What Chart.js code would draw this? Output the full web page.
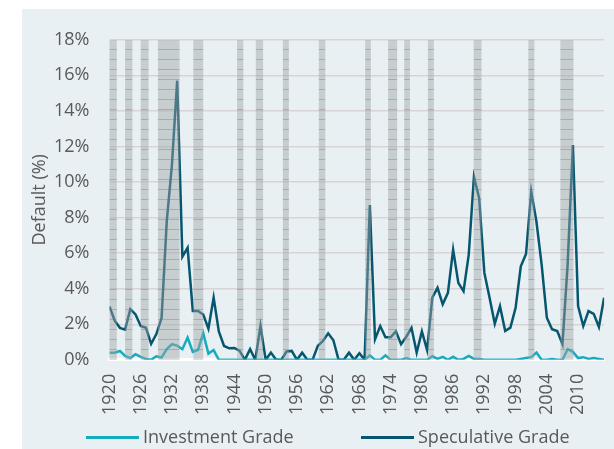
<!DOCTYPE html>
<html>
<head>
<meta charset="utf-8">
<script src="https://cdn.jsdelivr.net/npm/chart.js@4.4.1/dist/chart.umd.min.js"></script>
<style>
    html, body { margin: 0; padding: 0; background: #ffffff; }
    #panel { position: absolute; left: 22px; top: 9px; width: 592px; height: 440px; background: #e8f0f3; }
</style>
</head>
<body>
<div id="panel"><canvas id="defaultChart" width="592" height="440"></canvas></div>
<script>
var years = [
    1920, 1921, 1922, 1923, 1924, 1925, 1926, 1927, 1928, 1929,
    1930, 1931, 1932, 1933, 1934, 1935, 1936, 1937, 1938, 1939,
    1940, 1941, 1942, 1943, 1944, 1945, 1946, 1947, 1948, 1949,
    1950, 1951, 1952, 1953, 1954, 1955, 1956, 1957, 1958, 1959,
    1960, 1961, 1962, 1963, 1964, 1965, 1966, 1967, 1968, 1969,
    1970, 1971, 1972, 1973, 1974, 1975, 1976, 1977, 1978, 1979,
    1980, 1981, 1982, 1983, 1984, 1985, 1986, 1987, 1988, 1989,
    1990, 1991, 1992, 1993, 1994, 1995, 1996, 1997, 1998, 1999,
    2000, 2001, 2002, 2003, 2004, 2005, 2006, 2007, 2008, 2009,
    2010, 2011, 2012, 2013, 2014, 2015
];

var investmentGrade = [
    0.4, 0.4, 0.5, 0.22, 0.1, 0.32, 0.17, 0.05, 0, 0.2,
    0.13, 0.6, 0.88, 0.8, 0.6, 1.25, 0.45, 0.55, 1.5, 0.35,
    0.55, 0, 0, 0, 0, 0, 0, 0, 0, 0,
    0, 0, 0, 0, 0, 0, 0, 0, 0, 0,
    0, 0, 0, 0, 0, 0, 0, 0, 0, 0,
    0.25, 0, 0, 0.25, 0, 0, 0, 0.1, 0, 0,
    0, 0, 0.2, 0.05, 0.17, 0, 0.17, 0, 0.05, 0.22,
    0.05, 0.05, 0, 0, 0, 0, 0, 0, 0, 0.05,
    0.1, 0.15, 0.41, 0, 0, 0.05, 0, 0, 0.6, 0.45,
    0.1, 0.15, 0.05, 0.1, 0.05, 0
];

var speculativeGrade = [
    3.0, 2.2, 1.8, 1.7, 2.85, 2.55, 1.9, 1.8, 0.9, 1.45,
    2.35, 7.8, 11.0, 15.7, 5.8, 6.3, 2.75, 2.75, 2.55, 1.75,
    3.5, 1.6, 0.78, 0.65, 0.67, 0.5, 0, 0.6, 0, 1.9,
    0, 0.41, 0, 0, 0.47, 0.5, 0, 0.4, 0, 0,
    0.78, 1.06, 1.49, 1.1, 0, 0, 0.4, 0, 0.37, 0,
    8.7, 1.16, 1.9, 1.27, 1.27, 1.6, 0.88, 1.3, 1.8, 0.41,
    1.6, 0.55, 3.5, 4.05, 3.12, 3.77, 6.2, 4.33, 3.86, 5.92,
    10.3, 9.09, 4.89, 3.49, 2.03, 3.02, 1.62, 1.81, 2.93, 5.26,
    5.95, 9.46, 7.78, 5.36, 2.37, 1.72, 1.62, 0.88, 5.4, 12.08,
    3.02, 1.9, 2.74, 2.59, 1.85, 3.49
];

// shaded recession periods, start and end in years
var recessions = [
    [1919.6, 1921.4], [1923.0, 1924.4], [1926.0, 1927.5], [1929.3, 1933.45],
    [1936.1, 1938.0], [1944.5, 1945.7], [1948.1, 1949.5], [1953.3, 1954.45],
    [1960.2, 1961.45], [1969.1, 1970.2], [1973.5, 1975.25], [1976.6, 1977.7],
    [1981.15, 1982.3], [1989.95, 1991.45], [2000.45, 2001.6], [2006.6, 2009.15]
];

var xTickYears = [1920, 1926, 1932, 1938, 1944, 1950, 1956, 1962, 1968, 1974, 1980, 1986, 1992, 1998, 2004, 2010];
var yMax = 18;

var textColor = "#595959";
var fontFamily = "'Open Sans', Lato, sans-serif";

function toPoints(values) {
    return values.map(function (v, i) {
        return { x: years[i], y: v };
    });
}

function recessionPoints() {
    var pts = [];
    recessions.forEach(function (r) {
        pts.push({ x: r[0], y: 0 }, { x: r[0], y: yMax }, { x: r[1], y: yMax }, { x: r[1], y: 0 });
    });
    return pts;
}

function makeHatch() {
    var c = document.createElement("canvas");
    c.width = 8;
    c.height = 10;
    var g = c.getContext("2d");
    g.fillStyle = "rgba(160, 163, 166, 0.45)";
    g.fillRect(0, 0, 8, 10);
    g.fillStyle = "rgba(110, 112, 115, 0.35)";
    g.fillRect(0, 0, 8, 1);
    return g.createPattern(c, "repeat");
}

// legend drawn by hand so the spacing matches the original
var lineLegend = {
    id: "lineLegend",
    afterDraw: function (chart) {
        var ctx = chart.ctx;
        var items = [
            { ds: chart.data.datasets[1], x: 64 },
            { ds: chart.data.datasets[2], x: 339 }
        ];
        ctx.save();
        ctx.font = "18px " + fontFamily;
        ctx.textBaseline = "middle";
        ctx.fillStyle = textColor;
        items.forEach(function (it) {
            ctx.strokeStyle = it.ds.borderColor;
            ctx.lineWidth = 3;
            ctx.beginPath();
            ctx.moveTo(it.x, 428.5);
            ctx.lineTo(it.x + 53, 428.5);
            ctx.stroke();
            ctx.fillText(it.ds.label, it.x + 57, 429);
        });
        ctx.restore();
    }
};

var ctx = document.getElementById("defaultChart").getContext("2d");
var defaultChart = new Chart(ctx, {
    type: "line",
    data: {
        datasets: [
            {
                label: "Recession",
                data: recessionPoints(),
                borderWidth: 0,
                backgroundColor: makeHatch(),
                fill: "origin",
                pointRadius: 0,
                tension: 0,
                clip: false,
                order: 0,
            },
            {
                label: "Investment Grade",
                data: toPoints(investmentGrade),
                borderColor: "#17abbf",
                backgroundColor: "#17abbf",
                borderWidth: 2.5,
                pointRadius: 0,
                tension: 0,
                order: 1,
            },
            {
                label: "Speculative Grade",
                data: toPoints(speculativeGrade),
                borderColor: "#07566f",
                backgroundColor: "#07566f",
                borderWidth: 2.5,
                pointRadius: 0,
                tension: 0,
                order: 2,
            },
        ],
    },
    options: {
        responsive: false,
        animation: false,
        layout: {
            padding: { left: 3, right: 6, top: 26, bottom: 20 },
        },
        plugins: {
            legend: { display: false },
            tooltip: { enabled: false },
        },
        scales: {
            x: {
                type: "linear",
                min: 1920,
                max: 2015,
                afterBuildTicks: function (scale) {
                    scale.ticks = xTickYears.map(function (v) {
                        return { value: v };
                    });
                },
                grid: { display: false, drawTicks: false },
                border: { display: true, color: "#ffffff", width: 3 },
                ticks: {
                    autoSkip: false,
                    minRotation: 90,
                    maxRotation: 90,
                    padding: 14,
                    color: textColor,
                    font: { family: fontFamily, size: 18 },
                    callback: function (value) {
                        return String(value);
                    },
                },
            },
            y: {
                min: 0,
                max: yMax,
                afterFit: function (scale) {
                    scale.width = 84.5;
                },
                grid: { color: "#d7d4d6", lineWidth: 1.5, drawTicks: false },
                border: { display: false },
                ticks: {
                    stepSize: 2,
                    padding: 20,
                    color: textColor,
                    font: { family: fontFamily, size: 18 },
                    callback: function (value) {
                        return value + "%";
                    },
                },
                title: {
                    display: true,
                    text: "Default (%)",
                    color: textColor,
                    font: { family: fontFamily, size: 18 },
                },
            },
        },
    },
    plugins: [lineLegend],
});
</script>
</body>
</html>
